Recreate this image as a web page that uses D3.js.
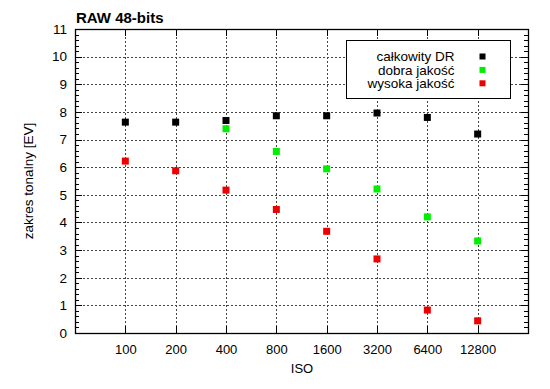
<!DOCTYPE html>
<html>
<head>
<meta charset="utf-8">
<script src="https://cdn.jsdelivr.net/npm/d3@7"></script>
<style>
    body { margin: 0; background: #fff; }
    svg text { font-family: 'Liberation Sans', Arial, sans-serif; }
</style>
</head>
<body>
<svg id="chart" width="550" height="389"></svg>
<script>
// data

let isoValues = [100, 200, 400, 800, 1600, 3200, 6400, 12800];
let totalDR = [7.63, 7.63, 7.69, 7.86, 7.86, 7.96, 7.80, 7.20];
let goodQuality = [null, null, 7.39, 6.57, 5.94, 5.21, 4.20, 3.33];
let highQuality = [6.22, 5.87, 5.17, 4.47, 3.68, 2.68, 0.83, 0.44];
let yTicks = d3.range(0, 12);

let series = [
    { name: 'całkowity DR', color: '#000000', values: totalDR },
    { name: 'dobra jakość', color: '#00ee00', values: goodQuality },
    { name: 'wysoka jakość', color: '#ee0000', values: highQuality },
];

// layout

let margin = { top: 29, right: 22, bottom: 56, left: 75 };
let width = 550 - margin.left - margin.right;
let height = 389 - margin.top - margin.bottom;

let svg = d3.select('#chart');
let g = svg.append('g')
    .attr('transform', `translate(${margin.left},${margin.top})`);

let x = d3.scaleLog().base(2)
    .domain([50, 25600])
    .range([0, width]);

let y = d3.scaleLinear()
    .domain([0, 11])
    .range([height, 0]);

// grid

g.append('g')
    .selectAll('line')
    .data(yTicks.slice(1, -1))
    .enter()
    .append('line')
    .attr('x1', 0)
    .attr('x2', width)
    .attr('y1', (d) => Math.round(y(d)) + 0.5)
    .attr('y2', (d) => Math.round(y(d)) + 0.5)
    .attr('stroke', '#444')
    .attr('stroke-width', 1)
    .attr('stroke-dasharray', '2,2');

g.append('g')
    .selectAll('line')
    .data(isoValues)
    .enter()
    .append('line')
    .attr('x1', (d) => Math.round(x(d)) + 0.5)
    .attr('x2', (d) => Math.round(x(d)) + 0.5)
    .attr('y1', 0)
    .attr('y2', height)
    .attr('stroke', '#444')
    .attr('stroke-width', 1)
    .attr('stroke-dasharray', '2,2');

// axes

let minorTicks = d3.range(0, 11.01, 0.2).map((d) => +d.toFixed(1));

let yLeft = g.append('g')
    .call(d3.axisLeft(y).tickValues(yTicks).tickSize(0).tickPadding(8));
yLeft.select('.domain').remove();
yLeft.selectAll('text')
    .style('font-size', '13.5px')
    .attr('fill', '#000');

function drawYTicks(xPos, dir) {
    g.append('g')
        .selectAll('line')
        .data(minorTicks)
        .enter()
        .append('line')
        .attr('x1', xPos)
        .attr('x2', (d) => xPos + dir * (Number.isInteger(d) ? 7 : 4))
        .attr('y1', (d) => Math.round(y(d)) + 0.5)
        .attr('y2', (d) => Math.round(y(d)) + 0.5)
        .attr('stroke', '#000');
}
drawYTicks(0, 1);
drawYTicks(width, -1);

let xBottom = g.append('g')
    .attr('transform', `translate(0,${height})`)
    .call(d3.axisBottom(x).tickValues(isoValues).tickFormat(d3.format('d')).tickSize(0).tickPadding(12));
xBottom.select('.domain').remove();
xBottom.selectAll('text')
    .style('font-size', '13px')
    .attr('fill', '#000');

// major x ticks, bottom and top
[[height, -7], [0, 7]].forEach(([y0, len]) => {
    g.append('g')
        .selectAll('line')
        .data(isoValues)
        .enter()
        .append('line')
        .attr('x1', (d) => Math.round(x(d)) + 0.5)
        .attr('x2', (d) => Math.round(x(d)) + 0.5)
        .attr('y1', y0)
        .attr('y2', y0 + len)
        .attr('stroke', '#000');
});

// frame
g.append('rect')
    .attr('x', 0.5)
    .attr('y', 0.5)
    .attr('width', width)
    .attr('height', height)
    .attr('fill', 'none')
    .attr('stroke', '#000')
    .attr('stroke-width', 1.3);

// points

let size = 7;
series.forEach((s) => {
    g.append('g')
        .selectAll('rect')
        .data(s.values.map((v, i) => ({ iso: isoValues[i], v })).filter((d) => d.v != null))
        .enter()
        .append('rect')
        .attr('x', (d) => x(d.iso) - size / 2)
        .attr('y', (d) => y(d.v) - size / 2)
        .attr('width', size)
        .attr('height', size)
        .attr('fill', s.color);
});

// legend

let legend = svg.append('g')
    .attr('transform', 'translate(346.5,40.5)');

legend.append('rect')
    .attr('width', 164)
    .attr('height', 58)
    .attr('fill', '#fff')
    .attr('stroke', '#000');

let legendRows = legend.selectAll('.row')
    .data(series)
    .enter()
    .append('g')
    .classed('row', 1)
    .attr('transform', (d, i) => `translate(0,${16 + i * 13.4})`);

legendRows.append('text')
    .attr('x', 108)
    .attr('dy', '0.35em')
    .attr('text-anchor', 'end')
    .style('font-size', '13.5px')
    .text((d) => d.name);

legendRows.append('rect')
    .attr('x', 133)
    .attr('y', -3)
    .attr('width', 6)
    .attr('height', 6)
    .attr('fill', (d) => d.color);

// titles

svg.append('text')
    .attr('x', 76)
    .attr('y', 23)
    .style('font-size', '15px')
    .style('font-weight', 'bold')
    .text('RAW 48-bits');

svg.append('text')
    .attr('transform', `translate(33,${margin.top + height / 2}) rotate(-90)`)
    .attr('text-anchor', 'middle')
    .style('font-size', '13.5px')
    .text('zakres tonalny [EV]');

svg.append('text')
    .attr('x', 302)
    .attr('y', 373)
    .attr('text-anchor', 'middle')
    .style('font-size', '13px')
    .text('ISO');
</script>
</body>
</html>
